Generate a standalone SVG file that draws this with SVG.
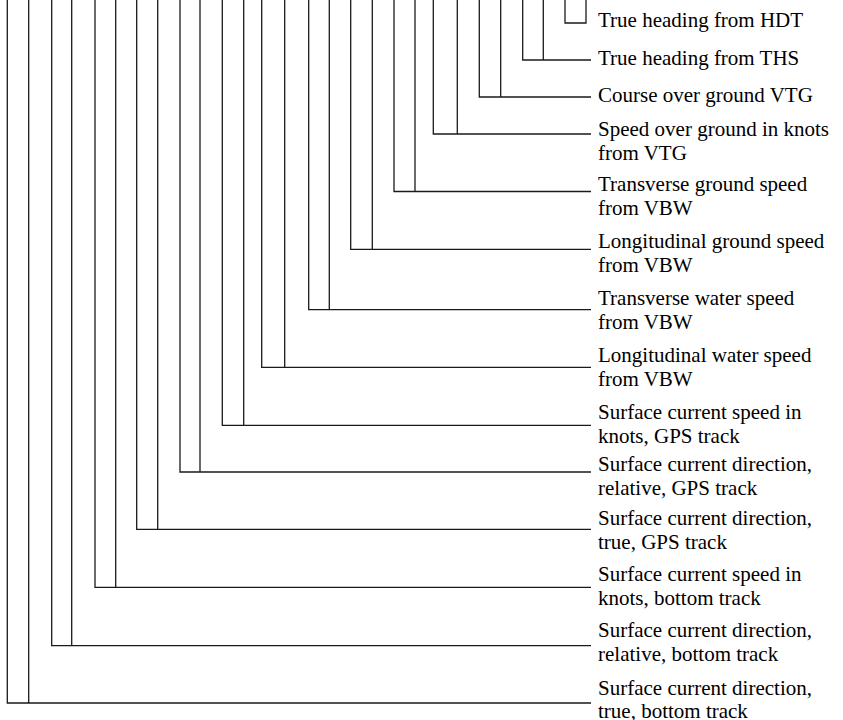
<svg xmlns="http://www.w3.org/2000/svg" width="843" height="720" viewBox="0 0 843 720">
<style>
.c{fill:none;stroke:#1a1a1a;stroke-width:1.3}
.t{font-family:"Liberation Serif","Times New Roman",serif;font-size:21px;fill:#000}
</style>
<rect width="843" height="720" fill="#fff"/>
<g id="connectors">
<path class="c" d="M565,0V23H586V0"/>
<path class="c" d="M522.7,0V60H591M543.3,0V60"/>
<path class="c" d="M479.3,0V97H591M500.7,0V97"/>
<path class="c" d="M433.3,0V134H591M457.3,0V134"/>
<path class="c" d="M394,0V191.5H591M415,0V191.5"/>
<path class="c" d="M350.7,0V249.3H591M372.3,0V249.3"/>
<path class="c" d="M308.7,0V309.7H591M329.3,0V309.7"/>
<path class="c" d="M261.7,0V367.3H591M284.7,0V367.3"/>
<path class="c" d="M222.3,0V425.3H591M243.7,0V425.3"/>
<path class="c" d="M180,0V472H591M200,0V472"/>
<path class="c" d="M136.7,0V529.3H591M157.7,0V529.3"/>
<path class="c" d="M95,0V587.3H591M115.7,0V587.3"/>
<path class="c" d="M51.7,0V645.7H591M71.7,0V645.7"/>
<path class="c" d="M7.3,0V703H591M28.7,0V703"/>
</g>
<g id="n-hdt"><text class="t" x="598" y="27">True heading from HDT</text></g>
<g id="n-ths"><text class="t" x="598" y="65">True heading from THS</text></g>
<g id="n-cog"><text class="t" x="598" y="102">Course over ground VTG</text></g>
<g id="n-sog"><text class="t" x="598" y="136">Speed over ground in knots</text><text class="t" x="598" y="160">from VTG</text></g>
<g id="n-tgs"><text class="t" x="598" y="191">Transverse ground speed</text><text class="t" x="598" y="215">from VBW</text></g>
<g id="n-lgs"><text class="t" x="598" y="248">Longitudinal ground speed</text><text class="t" x="598" y="272">from VBW</text></g>
<g id="n-tws"><text class="t" x="598" y="305">Transverse water speed</text><text class="t" x="598" y="329">from VBW</text></g>
<g id="n-lws"><text class="t" x="598" y="362">Longitudinal water speed</text><text class="t" x="598" y="386">from VBW</text></g>
<g id="n-scs-gps"><text class="t" x="598" y="419">Surface current speed in</text><text class="t" x="598" y="443">knots, GPS track</text></g>
<g id="n-scdr-gps"><text class="t" x="598" y="471">Surface current direction,</text><text class="t" x="598" y="495">relative, GPS track</text></g>
<g id="n-scdt-gps"><text class="t" x="598" y="525">Surface current direction,</text><text class="t" x="598" y="549">true, GPS track</text></g>
<g id="n-scs-bt"><text class="t" x="598" y="581">Surface current speed in</text><text class="t" x="598" y="605">knots, bottom track</text></g>
<g id="n-scdr-bt"><text class="t" x="598" y="637">Surface current direction,</text><text class="t" x="598" y="661">relative, bottom track</text></g>
<g id="n-scdt-bt"><text class="t" x="598" y="695">Surface current direction,</text><text class="t" x="598" y="718">true, bottom track</text></g>
</svg>
